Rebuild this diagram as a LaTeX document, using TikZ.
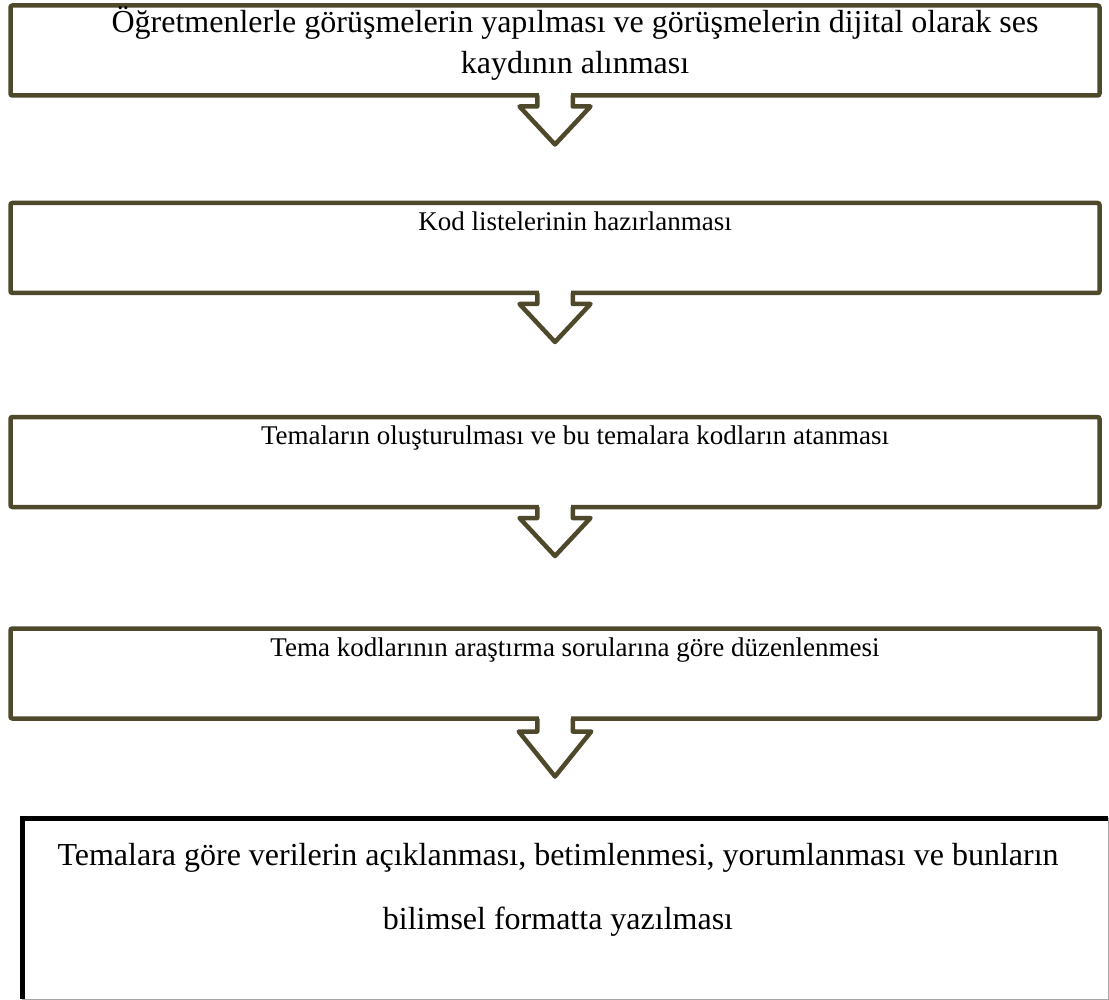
\documentclass[tikz,border=0pt]{standalone}
\usepackage{fontspec}
\setmainfont{Liberation Serif}
\usetikzlibrary{positioning}
\definecolor{olivebox}{RGB}{79,73,44}

\begin{document}
\begin{tikzpicture}[
	x=0.5pt, y=-0.5pt,
	box/.style = {draw=olivebox, line width=2.25pt, rounded corners=1pt,
		minimum width=544.5pt, minimum height=45pt, outer sep=0pt, inner sep=0pt},
	txt/.style = {anchor=base, align=center, inner sep=0pt,
		font=\fontsize{13.5pt}{20.5pt}\selectfont},
	txta/.style = {txt, font=\fontsize{16pt}{20.5pt}\selectfont},
	txtb/.style = {txt, font=\fontsize{16pt}{32pt}\selectfont},
	arr/.style = {draw=olivebox, line width=2.25pt, line join=round},
	gap/.style = {fill=white},
	st/.style = {xshift=10pt, yshift=-13.75pt},
	st2/.style = {xshift=10pt, yshift=-34.25pt},
     ]
	\useasboundingbox (0,0) rectangle (1109,1000);
%
	\node[box, anchor=north] (b1) at (555,5.5) {};
	\node[box, anchor=north] (b2) at (555,203) {};
	\node[box, anchor=north] (b3) at (555,417) {};
	\node[box, anchor=north] (b4) at (555,628.5) {};
	\node[minimum width=543pt, minimum height=90.5pt, outer sep=0pt,
		anchor=north west] (b5) at (22,818) {};
%
	\node[txta] (t1) at ([st2] b1.north) {Öğretmenlerle görüşmelerin yapılması ve görüşmelerin dijital olarak ses\\ kaydının alınması};
	\node[txt] (t2) at ([st] b2.north) {Kod listelerinin hazırlanması};
	\node[txt] (t3) at ([st] b3.north) {Temaların oluşturulması ve bu temalara kodların atanması};
	\node[txt] (t4) at ([st] b4.north) {Tema kodlarının araştırma sorularına göre düzenlenmesi};
	\node[txtb] (t5) at ([xshift=-3.5pt, yshift=-55.5pt] b5.north) {Temalara göre verilerin açıklanması, betimlenmesi, yorumlanması ve bunların\\ bilimsel formatta yazılması};
%
	\draw[line width=2.5pt] (b5.south west) -- (b5.north west) -- (b5.north east);
	\draw[gray!70, line width=0.5pt] (b5.north east) -- (b5.south east) -- (b5.south west);
%
	\fill[gap] ([xshift=-7.8pt,yshift=1.5pt] b1.south) rectangle ([xshift=7.8pt,yshift=-1.5pt] b1.south);
	\draw[arr] ([xshift=-8.875pt] b1.south) -- ++(0,11) -- ++(-17.75,0) -- ++(35.5,38) -- ++(35.5,-38) -- ++(-17.75,0) -- ++(0,-11);
%
	\fill[gap] ([xshift=-7.8pt,yshift=1.5pt] b2.south) rectangle ([xshift=7.8pt,yshift=-1.5pt] b2.south);
	\draw[arr] ([xshift=-8.875pt] b2.south) -- ++(0,11) -- ++(-17.75,0) -- ++(35.5,38) -- ++(35.5,-38) -- ++(-17.75,0) -- ++(0,-11);
%
	\fill[gap] ([xshift=-7.8pt,yshift=1.5pt] b3.south) rectangle ([xshift=7.8pt,yshift=-1.5pt] b3.south);
	\draw[arr] ([xshift=-8.875pt] b3.south) -- ++(0,11) -- ++(-17.75,0) -- ++(35.5,38) -- ++(35.5,-38) -- ++(-17.75,0) -- ++(0,-11);
%
	\fill[gap] ([xshift=-7.8pt,yshift=1.5pt] b4.south) rectangle ([xshift=7.8pt,yshift=-1.5pt] b4.south);
	\draw[arr] ([xshift=-8.875pt] b4.south) -- ++(0,13) -- ++(-18.5,0) -- ++(36.25,45) -- ++(36.25,-45) -- ++(-18.5,0) -- ++(0,-13);
\end{tikzpicture}
\end{document}
